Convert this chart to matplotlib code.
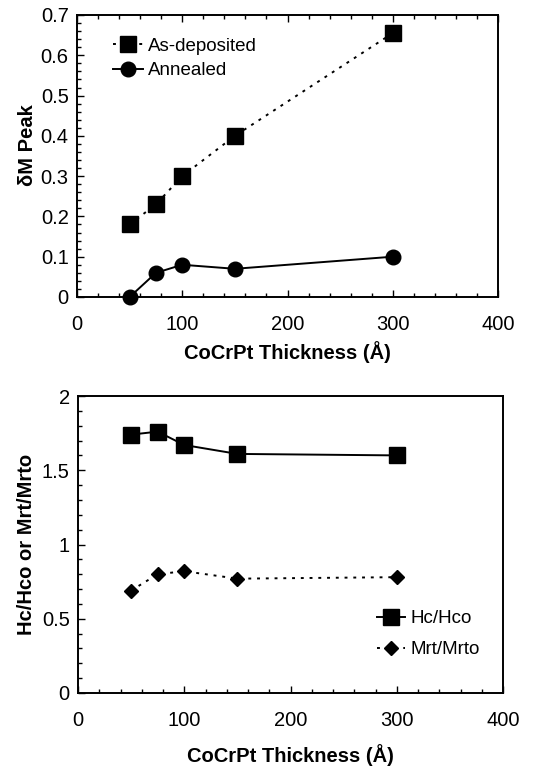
import matplotlib.pyplot as plt
from matplotlib.ticker import MultipleLocator

plt.rcParams['font.family'] = ['Liberation Sans', 'DejaVu Sans']

thick = [50, 75, 100, 150, 300]
asdep = [0.18, 0.23, 0.30, 0.40, 0.655]
anneal = [0.0, 0.06, 0.08, 0.07, 0.10]
hc_ratio = [1.74, 1.76, 1.67, 1.61, 1.60]
mrt_ratio = [0.69, 0.80, 0.82, 0.77, 0.78]

fig = plt.figure(figsize=(5.59, 7.68), dpi=100)
ax1 = fig.add_axes([77/559, 1-297/768, 421/559, 282/768])
ax2 = fig.add_axes([78/559, 1-693/768, 425/559, 297/768])

ax1.plot(thick, asdep, ls=(0, (1.5, 3)), color='k', lw=1.4, marker='s', ms=11,
         label='As-deposited', clip_on=False)
ax1.plot(thick, anneal, ls='-', color='k', lw=1.4, marker='o', ms=10.5,
         label='Annealed', clip_on=False)
ax1.set_xlim(0, 400)
ax1.set_ylim(0, 0.7)
ax1.xaxis.set_major_locator(MultipleLocator(100))
ax1.xaxis.set_minor_locator(MultipleLocator(20))
ax1.yaxis.set_major_locator(MultipleLocator(0.1))
ax1.yaxis.set_minor_locator(MultipleLocator(0.02))
ax1.set_yticklabels(['0' if v == 0 else f'{v:.1f}' for v in ax1.get_yticks()])
ax1.set_xlabel('CoCrPt Thickness (Å)', fontsize=14.5, fontweight='bold', labelpad=5)
ax1.set_ylabel('δM Peak', fontsize=14.5, fontweight='bold', labelpad=4)
ax1.yaxis.set_label_coords(-0.095, 0.54)
ax1.legend(loc='upper left', frameon=False, fontsize=13.5, handlelength=1.6,
           handletextpad=0.3, labelspacing=0.4, borderaxespad=0.5,
           bbox_to_anchor=(0.045, 0.98))

ax2.plot(thick, hc_ratio, ls='-', color='k', lw=1.4, marker='s', ms=11,
         label='Hc/Hco', clip_on=False)
ax2.plot(thick, mrt_ratio, ls=(0, (1.5, 3)), color='k', lw=1.4, marker='D', ms=7.5,
         label='Mrt/Mrto', clip_on=False)
ax2.set_xlim(0, 400)
ax2.set_ylim(0, 2)
ax2.xaxis.set_major_locator(MultipleLocator(100))
ax2.xaxis.set_minor_locator(MultipleLocator(20))
ax2.yaxis.set_major_locator(MultipleLocator(0.5))
ax2.yaxis.set_minor_locator(MultipleLocator(0.1))
ax2.set_yticklabels(['0' if v == 0 else f'{v:g}' for v in ax2.get_yticks()])
ax2.set_xlabel('CoCrPt Thickness (Å)', fontsize=14.5, fontweight='bold', labelpad=10)
ax2.set_ylabel('Hc/Hco or Mrt/Mrto', fontsize=14.5, fontweight='bold', labelpad=4)
ax2.legend(loc='lower right', frameon=False, fontsize=13.5, handlelength=1.5,
           handletextpad=0.3, labelspacing=0.75, borderaxespad=0.5,
           bbox_to_anchor=(0.985, 0.06))

for ax in (ax1, ax2):
    for s in ax.spines.values():
        s.set_linewidth(1.4)
    ax.tick_params(which='both', direction='in', labelsize=14.5)
    ax.tick_params(axis='x', pad=13)
    ax.tick_params(axis='y', pad=6)
    ax.tick_params(which='major', length=5, width=1)
    ax.tick_params(which='minor', length=3, width=1)
ax1.tick_params(which='both', top=True)

fig.savefig('out.png', dpi=100)
